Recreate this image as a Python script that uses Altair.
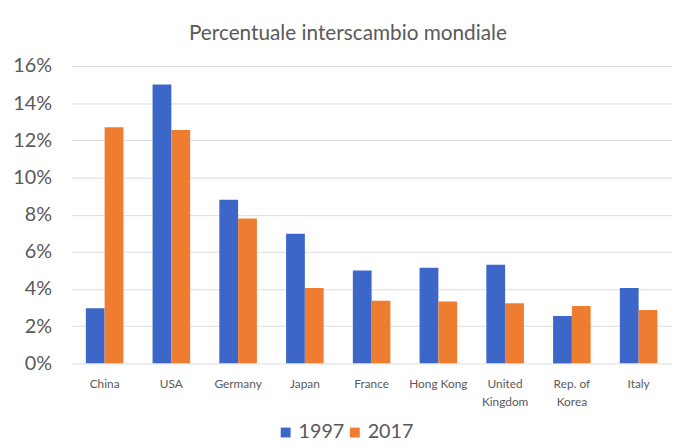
import altair as alt
import pandas as pd

countries = ["China", "USA", "Germany", "Japan", "France", "Hong Kong",
             "United Kingdom", "Rep. of Korea", "Italy"]
share_1997 = [2.96, 15.0, 8.8, 6.97, 5.0, 5.15, 5.3, 2.55, 4.06]
share_2017 = [12.7, 12.55, 7.8, 4.06, 3.37, 3.33, 3.23, 3.09, 2.87]
years = ["1997", "2017"]
y_ticks = [0, 2, 4, 6, 8, 10, 12, 14, 16]
colors = ["#3C67C9", "#EE7D31"]

rows = []
for i, c in enumerate(countries):
    rows.append({"country": c, "year": years[0], "share": share_1997[i]})
    rows.append({"country": c, "year": years[1], "share": share_2017[i]})
df = pd.DataFrame(rows)

FONT = "Lato"
GREY = "#595959"

label_expr = ("datum.label == 'United Kingdom' ? ['United', 'Kingdom'] : "
              "datum.label == 'Rep. of Korea' ? ['Rep. of', 'Korea'] : datum.label")

chart = alt.Chart(df).mark_bar().encode(
    x=alt.X("country:N", sort=countries,
            scale=alt.Scale(paddingInner=0.437, paddingOuter=0.2185),
            axis=alt.Axis(title=None, labelAngle=0, ticks=False, domain=False,
                          labelFont=FONT, labelFontSize=12, labelColor=GREY,
                          labelPadding=15, labelExpr=label_expr, labelLineHeight=19,
                          labelOverlap=False, labelBound=False)),
    xOffset=alt.XOffset("year:N", sort=years,
                        scale=alt.Scale(paddingInner=0, paddingOuter=0)),
    y=alt.Y("share:Q", scale=alt.Scale(domain=[0, 16]),
            axis=alt.Axis(values=y_ticks, title=None, labelExpr="datum.value + '%'",
                          ticks=False, domain=False, labelFont=FONT, labelFontSize=20,
                          labelColor=GREY, labelPadding=20,
                          gridColor="#DCDCDC", gridWidth=1)),
    color=alt.Color("year:N", scale=alt.Scale(domain=years, range=colors),
                    legend=alt.Legend(title=None, orient="none", legendX=207, legendY=361,
                                      direction="horizontal", symbolType="square",
                                      symbolSize=100, symbolStrokeWidth=0,
                                      labelFont=FONT, labelFontSize=20, labelColor=GREY,
                                      columnPadding=0, labelOffset=3, padding=0)),
).properties(
    width=608, height=301,
    title=alt.TitleParams("Percentuale interscambio mondiale", anchor="middle",
                          dx=-24, offset=12, font=FONT, fontSize=21,
                          fontWeight="normal", color=GREY),
    autosize=alt.AutoSizeParams(type="none"),
    padding={"left": 64, "top": 56, "right": 0, "bottom": 83},
).configure_view(stroke=None)

chart.save("out.html", embed_options={"renderer": "svg", "actions": False})
